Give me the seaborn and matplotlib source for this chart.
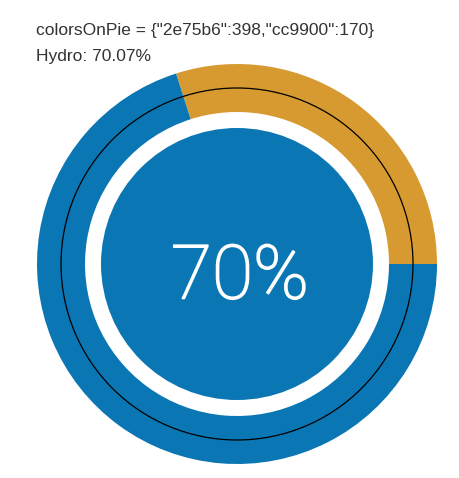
import numpy as np
import matplotlib
matplotlib.use('Agg')
import matplotlib.pyplot as plt
import matplotlib.patheffects as pe
import seaborn as sns

# valores del pie
labels = ['2e75b6', 'cc9900']
values = [398, 170]
colors = ['#0a76b4', '#d69a30']
source = 'Hydro'

pct = 100.0 * values[0] / sum(values)

sns.set_theme(style='white')
plt.rcParams['font.family'] = ['Liberation Sans', 'DejaVu Sans']

fig = plt.figure(figsize=(4.59, 4.78), dpi=100)
ax = fig.add_axes([0, 0, 1, 1])

cx, cy = 237, 214

# anillo: naranja primero desde las 3 en punto, antihorario
ax.pie(values[::-1], colors=colors[::-1], startangle=0, counterclock=True,
       radius=200, center=(cx, cy), frame=True,
       wedgeprops={'width': 48, 'linewidth': 0})
ax.set_xlim(0, 459)
ax.set_ylim(0, 478)
ax.axis('off')

# disco central y circulo negro
ax.add_patch(plt.Circle((cx, cy), 136, color=colors[0], lw=0))
ax.add_patch(plt.Circle((cx, cy), 176, fill=False, ec='black', lw=0.9))

ax.text(cx + 3, cy - 14, '%d%%' % round(pct), color='white', fontsize=54,
        ha='center', va='center', family=['Roboto', 'DejaVu Sans'], weight='light',
        path_effects=[pe.withStroke(linewidth=1.2, foreground='white')])

txt = 'colorsOnPie = {' + ','.join('"%s":%d' % (l, v) for l, v in zip(labels, values)) + '}'
fig.text(36 / 459, 1 - 31 / 478, txt, fontsize=12.5, color='#333333', va='center')
fig.text(36 / 459, 1 - 56 / 478, '%s: %.2f%%' % (source, pct), fontsize=12.5, color='#333333', va='center')

plt.savefig('out.png', dpi=100)
